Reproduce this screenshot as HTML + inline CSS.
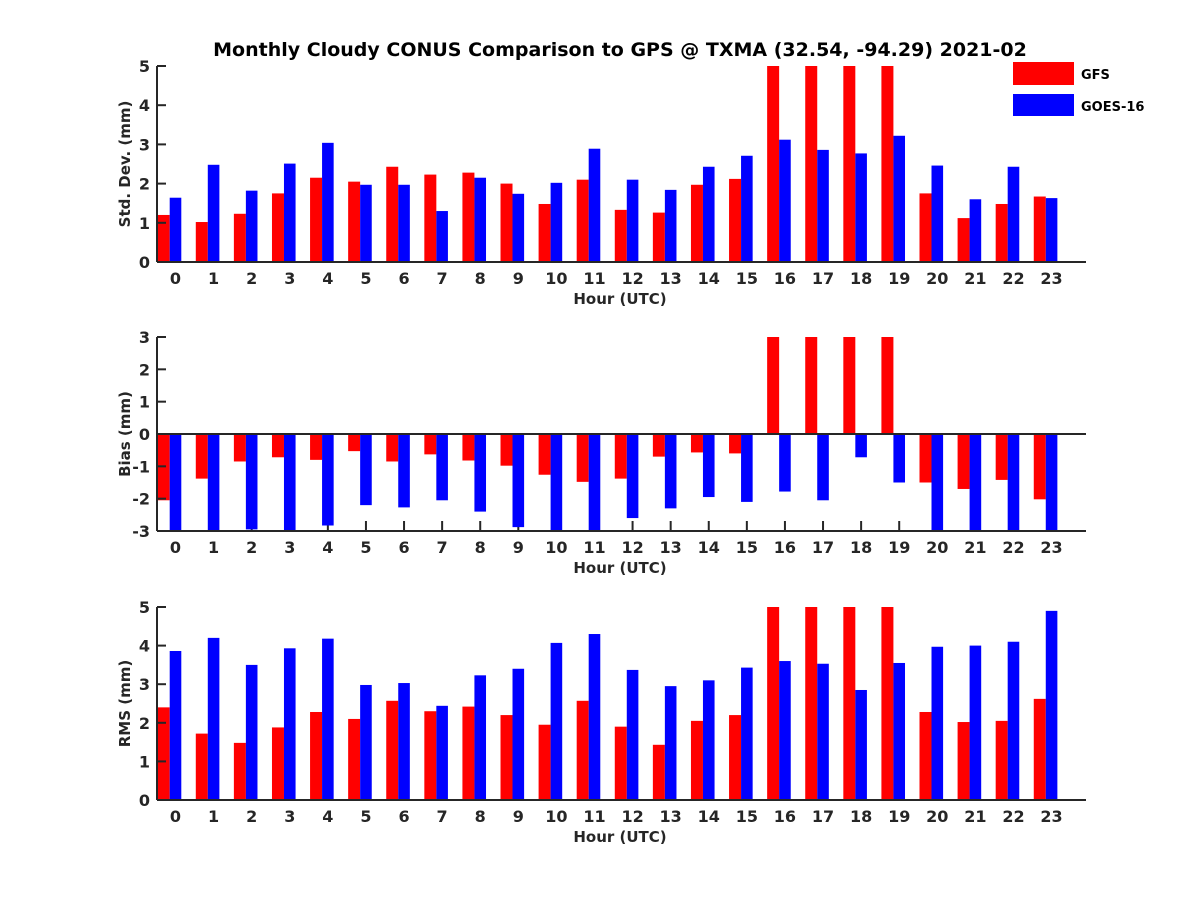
<!DOCTYPE html>
<html><head><meta charset="utf-8"><style>
body{margin:0;background:#fff}
svg text{font-family:"DejaVu Sans","Liberation Sans",sans-serif;font-weight:bold;fill:#262626}
</style></head><body>
<svg id="c" width="1200" height="900" xmlns="http://www.w3.org/2000/svg">
<text x="620" y="56" text-anchor="middle" font-size="19" style="fill:#000">Monthly Cloudy CONUS Comparison to GPS @ TXMA (32.54, -94.29) 2021-02</text>
<rect x="1013" y="62" width="61" height="23" fill="#f00"/>
<text x="1081" y="79" font-size="13" style="fill:#000">GFS</text>
<rect x="1013" y="94" width="61" height="22" fill="#00f"/>
<text x="1081" y="111" font-size="13" style="fill:#000">GOES-16</text>
</svg>
<script>
const hours=[0,1,2,3,4,5,6,7,8,9,10,11,12,13,14,15,16,17,18,19,20,21,22,23];
const stdGFS=[1.2,1.02,1.23,1.75,2.15,2.05,2.43,2.23,2.28,2.0,1.48,2.1,1.33,1.26,1.97,2.12,5.5,5.5,5.5,5.5,1.75,1.12,1.48,1.67];
const stdGOES=[1.64,2.48,1.82,2.51,3.04,1.97,1.97,1.3,2.15,1.74,2.02,2.89,2.1,1.84,2.43,2.71,3.12,2.86,2.77,3.22,2.46,1.6,2.43,1.63];
const biasGFS=[-2.05,-1.38,-0.85,-0.72,-0.8,-0.53,-0.85,-0.63,-0.82,-0.98,-1.26,-1.48,-1.38,-0.7,-0.57,-0.6,3.5,3.5,3.5,3.5,-1.5,-1.7,-1.42,-2.02];
const biasGOES=[-3.2,-3.2,-2.95,-3.2,-2.83,-2.2,-2.27,-2.05,-2.4,-2.88,-3.2,-3.2,-2.6,-2.3,-1.95,-2.1,-1.78,-2.05,-0.72,-1.5,-3.2,-3.2,-3.2,-3.2];
const rmsGFS=[2.4,1.72,1.48,1.88,2.28,2.1,2.57,2.3,2.42,2.2,1.95,2.57,1.9,1.43,2.05,2.2,5.5,5.5,5.5,5.5,2.28,2.02,2.05,2.62];
const rmsGOES=[3.86,4.2,3.5,3.93,4.18,2.98,3.03,2.44,3.23,3.4,4.07,4.3,3.37,2.95,3.1,3.43,3.6,3.53,2.85,3.55,3.97,4.0,4.1,4.9];
const stdTicks=[0,1,2,3,4,5];
const biasTicks=[-3,-2,-1,0,1,2,3];
const rmsTicks=[0,1,2,3,4,5];

const svg=document.getElementById('c');
const NS='http://www.w3.org/2000/svg';
function mk(tag,attrs,parent){const e=document.createElementNS(NS,tag);for(const k in attrs)e.setAttribute(k,attrs[k]);(parent||svg).appendChild(e);return e;}
const X0=157,X1=1086;
function xs(h){return 175.5+h*38.09;}
const BW=12;

function panel(name,top,bot,ymin,ymax,ticks,gfs,goes,ylabel,zeroLine){
  const g=mk('g',{});
  
  
  const ys=v=>bot-(v-ymin)/(ymax-ymin)*(bot-top);
  const clip=v=>Math.max(ymin,Math.min(ymax,v));
  const base=ys(Math.max(ymin,Math.min(ymax,0)));
  hours.forEach(h=>{
    mk('line',{x1:xs(h),y1:bot,x2:xs(h),y2:bot-10,stroke:'#262626','stroke-width':2},g);
  });
  hours.forEach((h,i)=>{
    const c=xs(h);
    const r=mk('rect',{x:c-5.8-BW,y:Math.min(ys(clip(gfs[i])),base),width:BW,height:Math.abs(ys(clip(gfs[i]))-base),fill:'#f00'},g);
    
    
    const b=mk('rect',{x:c-5.8,y:Math.min(ys(clip(goes[i])),base),width:11.6,height:Math.abs(ys(clip(goes[i]))-base),fill:'#00f'},g);
    
    
  });
  mk('line',{x1:X0,y1:top,x2:X0,y2:bot,stroke:'#262626','stroke-width':2},g);
  mk('line',{x1:X0,y1:bot,x2:X1,y2:bot,stroke:'#262626','stroke-width':2},g);
  if(zeroLine) mk('line',{x1:X0,y1:ys(0),x2:X1,y2:ys(0),stroke:'#262626','stroke-width':2},g);
  ticks.forEach(t=>{
    mk('line',{x1:X0,y1:ys(t),x2:X0+9,y2:ys(t),stroke:'#262626','stroke-width':2},g);
    const tx=mk('text',{x:X0-7,y:ys(t)+6,'text-anchor':'end','font-size':16},g);
    tx.textContent=t;
    
    
  });
  hours.forEach(h=>{
    const tx=mk('text',{x:xs(h),y:bot+22,'text-anchor':'middle','font-size':16},g);
    tx.textContent=h;
    
    
  });
  const xl=mk('text',{x:620,y:bot+42,'text-anchor':'middle','font-size':15},g);
  xl.textContent='Hour (UTC)';
  
  
  const cy=(top+bot)/2;
  const yl=mk('text',{x:130,y:cy,'text-anchor':'middle','font-size':15,transform:'rotate(-90 130 '+cy+')'},g);
  yl.textContent=ylabel;
  
  
}
panel('std-dev',66,262,0,5,stdTicks,stdGFS,stdGOES,'Std. Dev. (mm)',false);
panel('bias',337,531,-3,3,biasTicks,biasGFS,biasGOES,'Bias (mm)',true);
panel('rms',607,800,0,5,rmsTicks,rmsGFS,rmsGOES,'RMS (mm)',false);
</script>
</body></html>
